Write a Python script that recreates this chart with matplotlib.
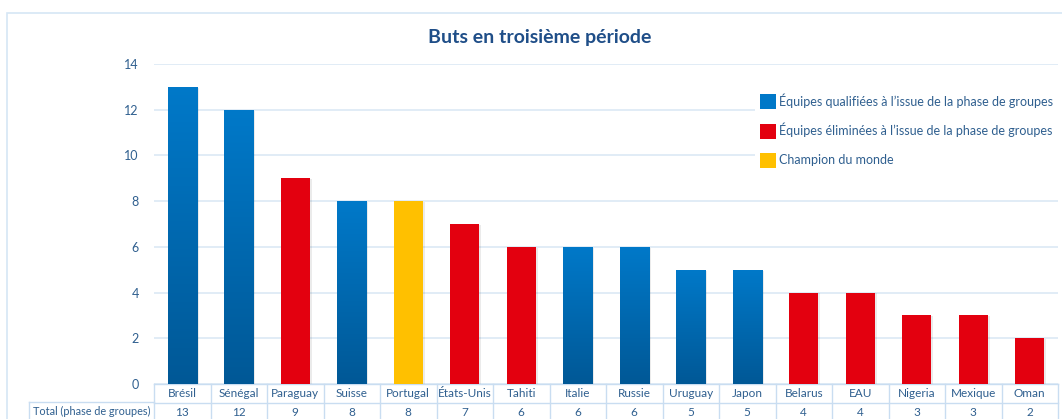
import matplotlib.pyplot as plt
import numpy as np
from matplotlib.patches import Rectangle, Patch
from matplotlib.colors import LinearSegmentedColormap

plt.rcParams['font.family'] = ['Lato', 'DejaVu Sans']

pays = ['Brésil', 'Sénégal', 'Paraguay', 'Suisse', 'Portugal', 'États-Unis', 'Tahiti',
        'Italie', 'Russie', 'Uruguay', 'Japon', 'Belarus', 'EAU', 'Nigeria', 'Mexique', 'Oman']
buts = [13, 12, 9, 8, 8, 7, 6, 6, 6, 5, 5, 4, 4, 3, 3, 2]
# q = qualifiée, e = éliminée, c = champion
statut = ['q', 'q', 'e', 'q', 'c', 'e', 'e', 'q', 'q', 'q', 'q', 'e', 'e', 'e', 'e', 'e']
legende = ['Équipes qualifiées à l’issue de la phase de groupes',
           'Équipes éliminées à l’issue de la phase de groupes',
           'Champion du monde']
titre = 'Buts en troisième période'
ligne_total = 'Total (phase de groupes)'

BLEU = '#0078C8'
ROUGE = '#E3000F'
JAUNE = '#FFC000'
TXT = '#2F5F8F'
GRID = '#DCE9F5'
BORD = '#C9DDF1'

W, H = 1062, 419
fig = plt.figure(figsize=(W / 100, H / 100), dpi=100)
fig.patch.set_facecolor('white')

# cadre extérieur
fig.add_artist(Rectangle((7 / W, -0.1), 1.2, (H - 13) / H + 0.1, transform=fig.transFigure,
                         fill=False, edgecolor='#D6E6F5', linewidth=1.2))

x0, x1 = 154, 1058
y0, y1 = 384, 64
ax = fig.add_axes([x0 / W, (H - y0) / H, (x1 - x0) / W, (y0 - y1) / H])
n = len(pays)
ax.set_xlim(-0.5, n - 0.5)
ax.set_ylim(0, 14)
ax.set_yticks(range(0, 15, 2))
ax.set_xticks([])
ax.grid(axis='y', color=GRID, linewidth=1.2)
ax.set_axisbelow(True)
for s in ax.spines.values():
    s.set_visible(False)
ax.tick_params(axis='y', length=0, pad=11, labelsize=9, labelcolor=TXT)

grad = LinearSegmentedColormap.from_list('g', ['#005896', '#0079C9'])
gimg = np.linspace(0, 1, 256).reshape(-1, 1)
bw = 0.52
for i, (v, s) in enumerate(zip(buts, statut)):
    # ombre légère
    ax.add_patch(Rectangle((i - bw / 2 + 0.03, 0), bw, v - 0.04, facecolor='#000000',
                           alpha=0.08, edgecolor='none', zorder=2))
    if s == 'q':
        r = ax.bar(i, v, width=bw, color='none', zorder=3)[0]
        im = ax.imshow(gimg, cmap=grad, extent=[i - bw / 2, i + bw / 2, 0, v], origin='lower',
                       aspect='auto', zorder=3)
        im.set_clip_path(r)
    else:
        ax.bar(i, v, width=bw, color=ROUGE if s == 'e' else JAUNE, zorder=3)
ax.set_xlim(-0.5, n - 0.5)
ax.set_ylim(0, 14)

# tableau de données
tr = ax.get_xaxis_transform()
ry1 = -19 / (y0 - y1)
ry2 = -35 / (y0 - y1)
for i in range(n + 1):
    ax.plot([i - 0.5, i - 0.5], [0, ry2 - 0.05], transform=tr, color=BORD, lw=1, clip_on=False)
ax.plot([-0.5, n - 0.5], [ry1, ry1], transform=tr, color=BORD, lw=1, clip_on=False)
ax.plot([-0.5, n - 0.5], [0, 0], transform=tr, color=BORD, lw=1, clip_on=False)
fig.add_artist(plt.Line2D([29 / W, x0 / W], [(H - 402) / H] * 2, color=BORD, lw=1))
fig.add_artist(plt.Line2D([29 / W, 29 / W], [(H - 402) / H, 0], color=BORD, lw=1))
for i, (p, v) in enumerate(zip(pays, buts)):
    ax.text(i, ry1 / 2, p, transform=tr, ha='center', va='center', fontsize=8.5, color=TXT)
    ax.text(i, (ry1 + ry2) / 2 - 0.005, str(v), transform=tr, ha='center', va='center',
            fontsize=8.5, color=TXT)
fig.text(33 / W, (H - 411) / H, ligne_total, ha='left', va='center', fontsize=7.8, color=TXT)

fig.text(540 / W, (H - 37) / H, titre, ha='center', va='center', fontsize=14,
         fontweight='bold', color='#1F4E88')

handles = [Patch(facecolor=c, edgecolor='none') for c in (BLEU, ROUGE, JAUNE)]
leg = ax.legend(handles, legende, loc='upper right', bbox_to_anchor=(1.0, 0.925),
                frameon=True, fontsize=9, labelcolor=TXT, handlelength=1.25,
                handleheight=1.5, handletextpad=0.25, labelspacing=1.1, borderaxespad=0)
leg.get_frame().set_edgecolor('none')
leg.get_frame().set_facecolor('white')
leg.get_frame().set_alpha(1)

fig.savefig('out.png', dpi=100)
